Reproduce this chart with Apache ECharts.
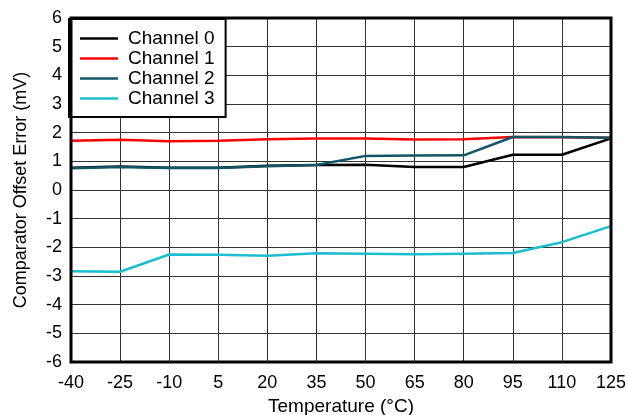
<!DOCTYPE html>
<html><head><meta charset="utf-8">
<script src="https://cdn.jsdelivr.net/npm/echarts@6/dist/echarts.min.js"></script>
<style>html,body{margin:0;padding:0;background:#fff}#c{width:628px;height:415px}</style>
</head><body><div id="c"></div>
<script>
const categories = ['-40','-25','-10','5','20','35','50','65','80','95','110','125'];
const channel0 = [0.78, 0.82, 0.78, 0.78, 0.85, 0.87, 0.88, 0.80, 0.80, 1.23, 1.23, 1.80];
const channel1 = [1.72, 1.75, 1.70, 1.72, 1.77, 1.80, 1.80, 1.76, 1.77, 1.85, 1.84, 1.82];
const channel2 = [0.76, 0.80, 0.77, 0.77, 0.83, 0.87, 1.19, 1.20, 1.21, 1.85, 1.85, 1.82];
const channel3 = [-2.83, -2.85, -2.25, -2.26, -2.29, -2.21, -2.22, -2.24, -2.22, -2.20, -1.82, -1.26];
const yTicks = [-6,-5,-4,-3,-2,-1,0,1,2,3,4,5,6];

const chart = echarts.init(document.getElementById('c'), null, {renderer:'canvas'});
const font = 'Liberation Sans, Arial, sans-serif';
function mk(name, data, color){
  return {name, type:'line', data, symbol:'none', smooth:false,
    lineStyle:{color, width:2.5}, itemStyle:{color}};
}
chart.setOption({
  animation:false,
  grid:{left:71, right:17, top:18, bottom:53, containLabel:false, outerBoundsMode:'none',
    show:true, borderColor:'#000', borderWidth:3, backgroundColor:'transparent', z:5},
  legend:{
    orient:'vertical', left:69, top:19,
    padding:[10,11,9,11], itemGap:1,
    itemWidth:38, itemHeight:19,
    backgroundColor:'#fff', borderColor:'#000', borderWidth:2,
    textStyle:{fontFamily:font, fontSize:19, color:'#000', padding:[0,0,0,5]},
    icon:'path://M0,7 L38,7 L38,9.5 L0,9.5 Z',
    data:['Channel 0','Channel 1','Channel 2','Channel 3']
  },
  xAxis:{
    type:'category', data:categories, boundaryGap:false,
    name:'Temperature (°C)', nameLocation:'middle', nameGap:33,
    nameTextStyle:{fontFamily:font, fontSize:19, color:'#000'},
    axisLine:{show:false}, axisTick:{show:false},
    axisLabel:{fontFamily:font, fontSize:18, color:'#000', margin:12, interval:0},
    splitLine:{show:true, lineStyle:{color:'#333', width:1}}
  },
  yAxis:{
    type:'value', min:yTicks[0], max:yTicks[yTicks.length-1], interval:1,
    name:'Comparator Offset Error (mV)', nameLocation:'middle', nameGap:41, nameRotate:90,
    nameTextStyle:{fontFamily:font, fontSize:18, color:'#000'},
    axisLine:{show:false}, axisTick:{show:false},
    axisLabel:{fontFamily:font, fontSize:18, color:'#000', margin:9},
    splitLine:{show:true, lineStyle:{color:'#333', width:1}}
  },
  series:[
    mk('Channel 0', channel0, '#000000'),
    mk('Channel 1', channel1, '#ff0000'),
    mk('Channel 2', channel2, '#115566'),
    mk('Channel 3', channel3, '#1bbdd0')
  ]
});
</script></body></html>
